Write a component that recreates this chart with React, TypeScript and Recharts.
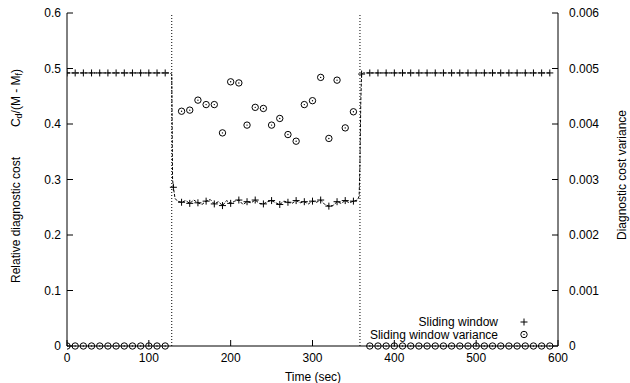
import { ComposedChart, Line, Scatter, XAxis, YAxis, ReferenceLine } from "recharts";

const TIME_TICKS = [0, 100, 200, 300, 400, 500, 600];
const COST_TICKS = [0, 0.1, 0.2, 0.3, 0.4, 0.5, 0.6];
const VARIANCE_TICKS = [0, 0.001, 0.002, 0.003, 0.004, 0.005, 0.006];
const SWITCH_TIMES = [128, 358];

// sliding window cost [time, cost]
const WINDOW_BEFORE: [number, number][] = [
  [0, 0.492], [10, 0.492], [20, 0.492], [30, 0.492], [40, 0.492], [50, 0.492],
  [60, 0.492], [70, 0.492], [80, 0.492], [90, 0.492], [100, 0.492], [110, 0.492],
  [120, 0.492], [125, 0.492], [128, 0.49], [129, 0.3], [130, 0.286], [132, 0.266],
];
const WINDOW_DURING: [number, number][] = [
  [135, 0.261], [140, 0.259], [145, 0.262], [150, 0.257], [155, 0.263], [160, 0.258],
  [165, 0.255], [170, 0.261], [175, 0.264], [180, 0.256], [185, 0.26], [190, 0.253],
  [195, 0.262], [200, 0.257], [205, 0.261], [210, 0.263], [215, 0.255], [220, 0.26],
  [225, 0.258], [230, 0.263], [235, 0.257], [240, 0.256], [245, 0.26], [250, 0.262],
  [255, 0.258], [260, 0.255], [265, 0.261], [270, 0.259], [275, 0.257], [280, 0.262],
  [285, 0.258], [290, 0.26], [295, 0.256], [300, 0.261], [305, 0.259], [310, 0.263],
  [315, 0.255], [320, 0.252], [325, 0.253], [330, 0.26], [335, 0.257], [340, 0.262],
  [345, 0.258], [350, 0.261], [355, 0.263],
];
const WINDOW_AFTER: [number, number][] = [
  [357, 0.27], [358, 0.33], [359, 0.44], [360, 0.49], [362, 0.492], [370, 0.492],
  [380, 0.492], [390, 0.492], [400, 0.492], [410, 0.492], [420, 0.492], [430, 0.492],
  [440, 0.492], [450, 0.492], [460, 0.492], [470, 0.492], [480, 0.492], [490, 0.492],
  [500, 0.492], [510, 0.492], [520, 0.492], [530, 0.492], [540, 0.492], [550, 0.492],
  [560, 0.492], [570, 0.492], [580, 0.492], [590, 0.492],
];

// sliding window variance [time, variance]
const VARIANCE_BEFORE: [number, number][] = [
  [0, 0], [10, 0], [20, 0], [30, 0], [40, 0], [50, 0], [60, 0], [70, 0], [80, 0],
  [90, 0], [100, 0], [110, 0], [120, 0],
];
const VARIANCE_DURING: [number, number][] = [
  [140, 0.00423], [150, 0.00425], [160, 0.00443], [170, 0.00435], [180, 0.00435],
  [190, 0.00384], [200, 0.00476], [210, 0.00474], [220, 0.00398], [230, 0.0043],
  [240, 0.00428], [250, 0.00398], [260, 0.0041], [270, 0.00381], [280, 0.00369],
  [290, 0.00435], [300, 0.00442], [310, 0.00484], [320, 0.00374], [330, 0.00479],
  [340, 0.00393], [350, 0.00422],
];
const VARIANCE_AFTER: [number, number][] = [
  [370, 0], [380, 0], [390, 0], [400, 0], [410, 0], [420, 0], [430, 0], [440, 0],
  [450, 0], [460, 0], [470, 0], [480, 0], [490, 0], [500, 0], [510, 0], [520, 0],
  [530, 0], [540, 0], [550, 0], [560, 0], [570, 0], [580, 0], [590, 0],
];

const FONT = "'Liberation Sans', Arial, Helvetica, sans-serif";

const windowData = [...WINDOW_BEFORE, ...WINDOW_DURING, ...WINDOW_AFTER].map(([t, v]) => ({ t, cost: v }));
const windowMarks = windowData.filter((d) => d.t % 10 === 0);
const varianceData = [...VARIANCE_BEFORE, ...VARIANCE_DURING, ...VARIANCE_AFTER].map(([t, v]) => ({ t, variance: v }));

const Plus = (props: any) => {
  const { cx, cy } = props;
  if (cx == null || cy == null) return <g />;
  return (
    <g stroke="#000" strokeWidth={1}>
      <line x1={cx - 3.5} x2={cx + 3.5} y1={cy} y2={cy} />
      <line x1={cx} x2={cx} y1={cy - 3.5} y2={cy + 3.5} />
    </g>
  );
};

const Ring = (props: any) => {
  const { cx, cy } = props;
  if (cx == null || cy == null) return <g />;
  return (
    <g>
      <circle cx={cx} cy={cy} r={3.2} fill="none" stroke="#000" strokeWidth={1} />
      <circle cx={cx} cy={cy} r={0.7} fill="#000" />
    </g>
  );
};

const tickStyle = { fill: "#000", fontSize: 12, fontFamily: FONT };

export default function App() {
  return (
    <div style={{ position: "absolute", left: 0, top: 0, width: 630, height: 383, background: "#fff" }}>
      <ComposedChart width={630} height={383} margin={{ top: 13, right: 0, bottom: 0, left: 0 }}>
        <XAxis
          xAxisId="bottom"
          dataKey="t"
          type="number"
          domain={[0, 600]}
          ticks={TIME_TICKS}
          allowDataOverflow
          height={37}
          tickSize={-6}
          tickMargin={13}
          tick={tickStyle}
          axisLine={{ stroke: "#000" }}
          tickLine={{ stroke: "#000" }}
        />
        <XAxis
          xAxisId="top"
          orientation="top"
          dataKey="t"
          type="number"
          domain={[0, 600]}
          ticks={TIME_TICKS}
          allowDataOverflow
          height={0}
          tickSize={-6}
          tickFormatter={() => ""}
          axisLine={{ stroke: "#000" }}
          tickLine={{ stroke: "#000" }}
        />
        <YAxis
          yAxisId="cost"
          type="number"
          domain={[0, 0.6]}
          ticks={COST_TICKS}
          width={67}
          tickSize={-6}
          tickMargin={12}
          tick={tickStyle}
          axisLine={{ stroke: "#000" }}
          tickLine={{ stroke: "#000" }}
        />
        <YAxis
          yAxisId="variance"
          orientation="right"
          type="number"
          domain={[0, 0.006]}
          ticks={VARIANCE_TICKS}
          width={72}
          tickSize={-6}
          tickMargin={17}
          tick={{ ...tickStyle, textAnchor: "start" }}
          axisLine={{ stroke: "#000" }}
          tickLine={{ stroke: "#000" }}
        />
        {SWITCH_TIMES.map((t) => (
          <ReferenceLine
            key={t}
            x={t}
            xAxisId="bottom"
            yAxisId="cost"
            stroke="#000"
            strokeWidth={1}
            strokeDasharray="1 2"
          />
        ))}
        <Line
          xAxisId="bottom"
          yAxisId="cost"
          data={windowData}
          dataKey="cost"
          type="linear"
          stroke="#000"
          strokeWidth={1}
          strokeDasharray="3 1.5"
          dot={false}
          activeDot={false}
          isAnimationActive={false}
        />
        <Scatter
          xAxisId="bottom"
          yAxisId="cost"
          data={windowMarks}
          dataKey="cost"
          shape={Plus}
          isAnimationActive={false}
        />
        <Scatter
          xAxisId="bottom"
          yAxisId="variance"
          data={varianceData}
          dataKey="variance"
          shape={Ring}
          isAnimationActive={false}
        />
      </ComposedChart>
      <svg
        width={630}
        height={383}
        style={{ position: "absolute", left: 0, top: 0, pointerEvents: "none" }}
        fontFamily={FONT}
        fontSize={12}
      >
        <text x={16} y={220} transform="rotate(-90 16 220)" textAnchor="middle" dominantBaseline="central">
          Relative diagnostic cost
        </text>
        <text x={16} y={98} transform="rotate(-90 16 98)" textAnchor="middle" dominantBaseline="central">
          C<tspan fontSize={9} dy={3}>d</tspan>
          <tspan dy={-3}>/(M - M</tspan>
          <tspan fontSize={9} dy={3}>f</tspan>
          <tspan dy={-3}>)</tspan>
        </text>
        <text x={622} y={175} transform="rotate(-90 622 175)" textAnchor="middle" dominantBaseline="central">
          Diagnostic cost variance
        </text>
        <text x={313} y={381} textAnchor="middle">Time (sec)</text>
        <text x={498} y={326} textAnchor="end">Sliding window</text>
        <text x={498} y={338.5} textAnchor="end">Sliding window variance</text>
        <Plus cx={524} cy={322} />
        <Ring cx={524} cy={334.5} />
      </svg>
    </div>
  );
}
